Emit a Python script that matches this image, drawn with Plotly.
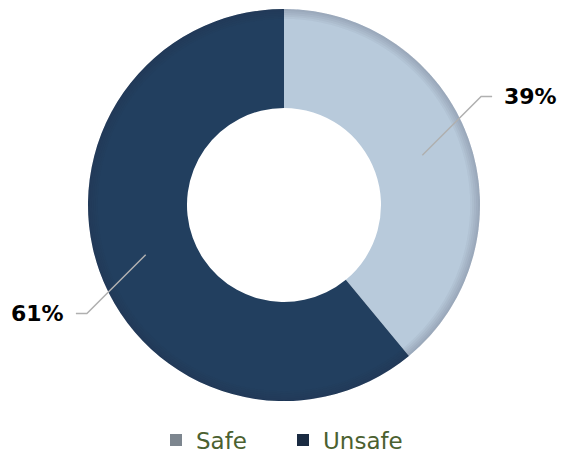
import math
import plotly.graph_objects as go

# data
labels = ["Safe", "Unsafe"]
values = [39, 61]
colors = ["#b8cadb", "#223f5f"]
legend_colors = ["#7d868f", "#1a2b42"]

W, H = 566, 454
# pie placement in pixels (centre and radius)
cx, cy, R = 284, 205, 196
HOLE = 0.495


def to_paper(px, py):
    return px / W, (H - py) / H


pie_domain = dict(x=[(cx - R) / W, (cx + R) / W],
                  y=[(H - cy - R) / H, (H - cy + R) / H])

fig = go.Figure()
fig.add_trace(go.Pie(
    labels=labels,
    values=values,
    hole=HOLE,
    sort=False,
    direction="clockwise",
    rotation=0,
    marker=dict(colors=colors, line=dict(width=0)),
    textinfo="none",
    hoverinfo="label+percent",
    showlegend=False,
    domain=pie_domain,
))

# soft shadow along the outer rim (thin translucent rings)
for h in [0.95, 0.96, 0.97, 0.98, 0.99]:
    fig.add_trace(go.Pie(
        values=[1], hole=h, sort=False, textinfo="none", hoverinfo="skip",
        showlegend=False, domain=pie_domain,
        marker=dict(colors=["rgba(40,50,60,0.045)"], line=dict(width=0)),
    ))

# legend entries
for lab, c in zip(labels, legend_colors):
    fig.add_trace(go.Scatter(
        x=[None], y=[None], mode="markers", name=lab,
        marker=dict(symbol="square", size=13, color=c),
    ))

# leader lines + percentage labels, placed from slice mid-angles
total = sum(values)
start = 0.0
for lab, v in zip(labels, values):
    mid = (start + v / 2) / total * 2 * math.pi
    start += v
    dx, dy = math.sin(mid), -math.cos(mid)
    sx, sy = cx + 0.75 * R * dx, cy + 0.75 * R * dy
    sgx = 1 if dx >= 0 else -1
    sgy = 1 if dy >= 0 else -1
    ex, ey = sx + sgx * 0.3 * R, sy + sgy * 0.3 * R
    hx = ex + sgx * 11
    pts = [to_paper(sx, sy), to_paper(ex, ey), to_paper(hx, ey)]
    path = "M {} {} L {} {} L {} {}".format(*[c for p in pts for c in p])
    fig.add_shape(type="path", path=path, xref="paper", yref="paper",
                  line=dict(color="#b0b0b0", width=1.5))
    tx, ty = to_paper(hx + sgx * 10, ey)
    fig.add_annotation(
        x=tx, y=ty, xref="paper", yref="paper",
        text="<b>{:.0f}%</b>".format(v / total * 100),
        showarrow=False,
        xanchor="left" if sgx > 0 else "right",
        yanchor="middle",
        font=dict(family="DejaVu Sans", size=22, color="#000000"),
    )

fig.update_layout(
    width=W, height=H,
    margin=dict(l=0, r=0, t=0, b=0, autoexpand=False),
    paper_bgcolor="white",
    plot_bgcolor="white",
    xaxis=dict(visible=False),
    yaxis=dict(visible=False),
    showlegend=True,
    legend=dict(
        orientation="h",
        x=0.5, xanchor="center",
        y=(H - 440) / H, yanchor="middle",
        font=dict(family="DejaVu Sans", size=23, color="#4b6130"),
        itemsizing="constant",
        entrywidth=82,
    ),
)

fig.write_html("out.html", config={"displayModeBar": False},
               post_script="document.body.style.margin='0';")
